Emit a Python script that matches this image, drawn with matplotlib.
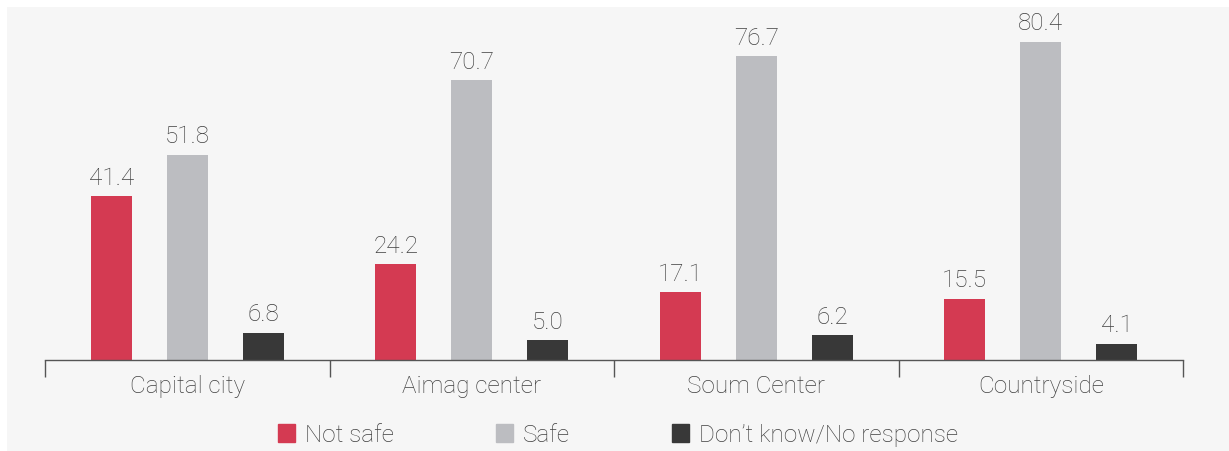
import matplotlib.pyplot as plt
import matplotlib.patches as mpatches
import numpy as np

# ข้อมูลจากภาพ
categories = ["Capital city", "Aimag center", "Soum Center", "Countryside"]
not_safe = [41.4, 24.2, 17.1, 15.5]
safe = [51.8, 70.7, 76.7, 80.4]
dont_know = [6.8, 5.0, 6.2, 4.1]
series_names = ["Not safe", "Safe", "Don\u2019t know/No response"]

colors = ["#d43a52", "#bcbdc1", "#383838"]
text_color = "#404040"

plt.rcParams['font.family'] = ['Roboto', 'DejaVu Sans']

W, H = 1229, 452
fig = plt.figure(figsize=(W / 100, H / 100), dpi=100)
fig.patch.set_facecolor("white")
# พื้นหลังสีเทาอ่อน
fig.patches.append(mpatches.Rectangle((7 / W, 0), 1, 1 - 8 / H, transform=fig.transFigure,
                                      facecolor="#f6f6f6", edgecolor="none", zorder=-10))

ax = fig.add_axes([45 / W, 1 - 361 / H, (1183 - 45) / W, (361 - 8) / H])
ax.set_facecolor("none")

x = np.arange(len(categories))
width = 0.144
offset = 0.267
for i, (vals, col) in enumerate(zip([not_safe, safe, dont_know], colors)):
    pos = x + (i - 1) * offset
    ax.bar(pos, vals, width=width, color=col, label=series_names[i], zorder=2)
    for p, v in zip(pos, vals):
        ax.annotate(f"{v:.1f}", (p, v), xytext=(0, 5.5), textcoords="offset points",
                    ha="center", va="bottom", fontsize=17.5, color=text_color,
                    fontweight="light")

ax.set_xlim(-0.5, len(categories) - 0.5)
ax.set_ylim(0, 89.2)
ax.set_yticks([])
for s in ["left", "top", "right"]:
    ax.spines[s].set_visible(False)
ax.spines["bottom"].set_color("#555555")
ax.spines["bottom"].set_linewidth(1.0)

ax.set_xticks(x)
ax.set_xticklabels(categories, fontsize=17.5, color=text_color, fontweight="light")
ax.tick_params(axis="x", which="major", length=0, pad=10)
ax.set_xticks(np.arange(-0.5, len(categories)), minor=True)
ax.tick_params(axis="x", which="minor", length=12.5, width=1.0, color="#555555")

handles = [mpatches.Patch(color=c) for c in colors]
leg = fig.legend(handles, series_names, loc="center", bbox_to_anchor=(618 / W, 1 - 436 / H),
                 ncol=3, frameon=False, handlelength=0.7, handleheight=0.7,
                 handletextpad=0.4, columnspacing=4.2, labelcolor=text_color,
                 prop={'size': 17.5, 'weight': 'light'})

plt.savefig("out.png", dpi=100, facecolor="white")
